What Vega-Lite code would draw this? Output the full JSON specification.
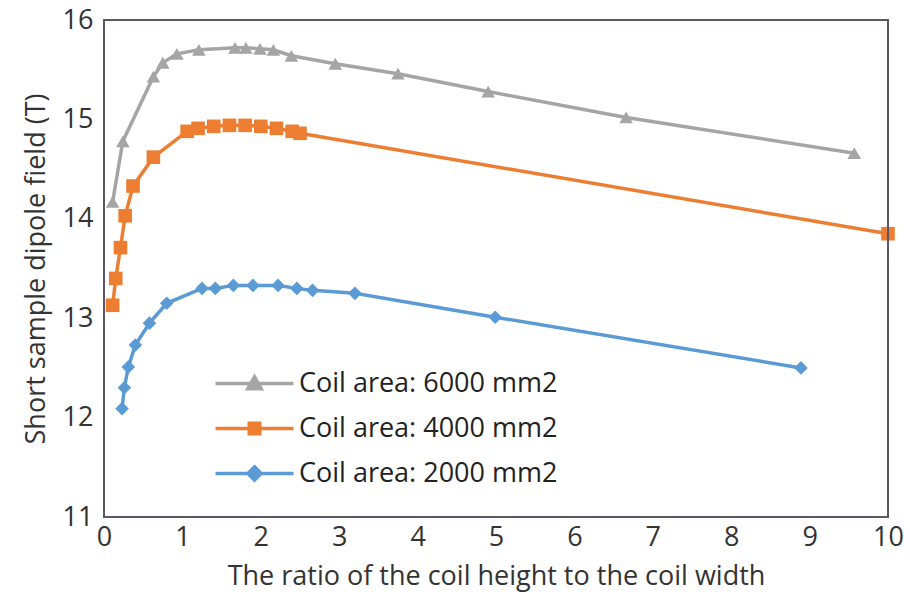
{
  "$schema": "https://vega.github.io/schema/vega-lite/v6.json",
  "width": 784,
  "height": 497,
  "autosize": "none",
  "padding": {"left": 104, "top": 20, "right": 22, "bottom": 79},
  "background": "white",
  "config": {
    "font": "Open Sans",
    "view": {"stroke": null},
    "axis": {"grid": false, "ticks": false, "domain": false, "labelFlush": false, "format": "d", "labelFont": "Open Sans", "titleFont": "Open Sans", "labelColor": "#333333", "titleColor": "#333333", "titleFontWeight": "normal"}
  },
  "datasets": {
    "series": [
      {"area": "Coil area: 6000 mm2", "mm2": 6000, "r": 0.11, "b": 14.17},
      {"area": "Coil area: 6000 mm2", "mm2": 6000, "r": 0.24, "b": 14.78},
      {"area": "Coil area: 6000 mm2", "mm2": 6000, "r": 0.63, "b": 15.43},
      {"area": "Coil area: 6000 mm2", "mm2": 6000, "r": 0.75, "b": 15.57},
      {"area": "Coil area: 6000 mm2", "mm2": 6000, "r": 0.93, "b": 15.66},
      {"area": "Coil area: 6000 mm2", "mm2": 6000, "r": 1.21, "b": 15.70},
      {"area": "Coil area: 6000 mm2", "mm2": 6000, "r": 1.67, "b": 15.72},
      {"area": "Coil area: 6000 mm2", "mm2": 6000, "r": 1.81, "b": 15.72},
      {"area": "Coil area: 6000 mm2", "mm2": 6000, "r": 1.99, "b": 15.71},
      {"area": "Coil area: 6000 mm2", "mm2": 6000, "r": 2.16, "b": 15.70},
      {"area": "Coil area: 6000 mm2", "mm2": 6000, "r": 2.39, "b": 15.64},
      {"area": "Coil area: 6000 mm2", "mm2": 6000, "r": 2.95, "b": 15.56},
      {"area": "Coil area: 6000 mm2", "mm2": 6000, "r": 3.75, "b": 15.46},
      {"area": "Coil area: 6000 mm2", "mm2": 6000, "r": 4.90, "b": 15.28},
      {"area": "Coil area: 6000 mm2", "mm2": 6000, "r": 6.66, "b": 15.02},
      {"area": "Coil area: 6000 mm2", "mm2": 6000, "r": 9.57, "b": 14.66},
      {"area": "Coil area: 4000 mm2", "mm2": 4000, "r": 0.11, "b": 13.13},
      {"area": "Coil area: 4000 mm2", "mm2": 4000, "r": 0.15, "b": 13.40},
      {"area": "Coil area: 4000 mm2", "mm2": 4000, "r": 0.21, "b": 13.71},
      {"area": "Coil area: 4000 mm2", "mm2": 4000, "r": 0.27, "b": 14.03},
      {"area": "Coil area: 4000 mm2", "mm2": 4000, "r": 0.37, "b": 14.33},
      {"area": "Coil area: 4000 mm2", "mm2": 4000, "r": 0.63, "b": 14.62},
      {"area": "Coil area: 4000 mm2", "mm2": 4000, "r": 1.06, "b": 14.88},
      {"area": "Coil area: 4000 mm2", "mm2": 4000, "r": 1.2, "b": 14.91},
      {"area": "Coil area: 4000 mm2", "mm2": 4000, "r": 1.4, "b": 14.93},
      {"area": "Coil area: 4000 mm2", "mm2": 4000, "r": 1.6, "b": 14.94},
      {"area": "Coil area: 4000 mm2", "mm2": 4000, "r": 1.8, "b": 14.94},
      {"area": "Coil area: 4000 mm2", "mm2": 4000, "r": 2.0, "b": 14.93},
      {"area": "Coil area: 4000 mm2", "mm2": 4000, "r": 2.2, "b": 14.91},
      {"area": "Coil area: 4000 mm2", "mm2": 4000, "r": 2.4, "b": 14.88},
      {"area": "Coil area: 4000 mm2", "mm2": 4000, "r": 2.5, "b": 14.86},
      {"area": "Coil area: 4000 mm2", "mm2": 4000, "r": 10.0, "b": 13.85},
      {"area": "Coil area: 2000 mm2", "mm2": 2000, "r": 0.23, "b": 12.09},
      {"area": "Coil area: 2000 mm2", "mm2": 2000, "r": 0.26, "b": 12.30},
      {"area": "Coil area: 2000 mm2", "mm2": 2000, "r": 0.31, "b": 12.51},
      {"area": "Coil area: 2000 mm2", "mm2": 2000, "r": 0.40, "b": 12.73},
      {"area": "Coil area: 2000 mm2", "mm2": 2000, "r": 0.58, "b": 12.95},
      {"area": "Coil area: 2000 mm2", "mm2": 2000, "r": 0.80, "b": 13.15},
      {"area": "Coil area: 2000 mm2", "mm2": 2000, "r": 1.25, "b": 13.30},
      {"area": "Coil area: 2000 mm2", "mm2": 2000, "r": 1.42, "b": 13.30},
      {"area": "Coil area: 2000 mm2", "mm2": 2000, "r": 1.65, "b": 13.33},
      {"area": "Coil area: 2000 mm2", "mm2": 2000, "r": 1.90, "b": 13.33},
      {"area": "Coil area: 2000 mm2", "mm2": 2000, "r": 2.22, "b": 13.33},
      {"area": "Coil area: 2000 mm2", "mm2": 2000, "r": 2.46, "b": 13.30},
      {"area": "Coil area: 2000 mm2", "mm2": 2000, "r": 2.66, "b": 13.28},
      {"area": "Coil area: 2000 mm2", "mm2": 2000, "r": 3.20, "b": 13.25},
      {"area": "Coil area: 2000 mm2", "mm2": 2000, "r": 4.99, "b": 13.01},
      {"area": "Coil area: 2000 mm2", "mm2": 2000, "r": 8.89, "b": 12.50}
    ],
    "frame": [{"x0": 0, "x1": 10, "y0": 11, "y1": 16}]
  },
  "layer": [
    {
      "data": {"name": "series"},
      "mark": {"type": "line", "strokeWidth": 3.5},
      "encoding": {
        "x": {"field": "r", "type": "quantitative", "scale": {"domain": [0, 10], "nice": false},
          "axis": {"values": [0,1,2,3,4,5,6,7,8,9,10], "format": "d", "labelFontSize": 27, "labelPadding": 7, "title": "The ratio of the coil height to the coil width", "titleFontSize": 27, "titlePadding": 13}},
        "y": {"field": "b", "type": "quantitative", "scale": {"domain": [11, 16], "nice": false, "zero": false},
          "axis": {"values": [11,12,13,14,15,16], "format": "d", "labelFontSize": 27, "labelPadding": 11, "title": "Short sample dipole field (T)", "titleFontSize": 27, "titlePadding": 12}},
        "color": {"field": "area", "type": "nominal",
          "scale": {"domain": ["Coil area: 6000 mm2", "Coil area: 4000 mm2", "Coil area: 2000 mm2"], "range": ["#A5A5A5", "#ED7D31", "#5B9BD5"]},
          "legend": {
            "orient": "none", "legendX": 137, "legendY": 350, "title": null,
            "padding": 0, "symbolSize": 196, "labelFontSize": 27, "labelFont": "Open Sans", "labelColor": "#222222",
            "labelOffset": 31, "rowPadding": 17, "labelLimit": 500,
            "encode": {"symbols": {"update": {
              "shape": {"signal": "datum.value === 'Coil area: 6000 mm2' ? 'M-5.57,0H5.57M0,-0.95L0.95,0.75L-0.95,0.75Z' : datum.value === 'Coil area: 4000 mm2' ? 'M-5.57,0H5.57M-0.75,-0.75H0.75V0.75H-0.75Z' : 'M-5.57,0H5.57M0,-0.95L0.95,0L0,0.95L-0.95,0Z'"},
              "strokeWidth": {"value": 3.5},
              "opacity": {"value": 1}
            }}}
          }}
      }
    },
    {
      "data": {"name": "series"},
      "mark": {"type": "point", "filled": true, "opacity": 1, "size": 185},
      "encoding": {
        "x": {"field": "r", "type": "quantitative"},
        "y": {"field": "b", "type": "quantitative"},
        "color": {"field": "area", "type": "nominal"},
        "shape": {"field": "mm2", "type": "nominal", "legend": null,
          "scale": {"domain": [6000, 4000, 2000], "range": ["triangle-up", "square", "diamond"]}}
      }
    },
    {
      "data": {"name": "frame"},
      "mark": {"type": "rect", "fill": null, "filled": false, "stroke": "#5e5566", "strokeWidth": 2},
      "encoding": {
        "x": {"field": "x0", "type": "quantitative"},
        "x2": {"field": "x1"},
        "y": {"field": "y0", "type": "quantitative"},
        "y2": {"field": "y1"}
      }
    }
  ]
}
